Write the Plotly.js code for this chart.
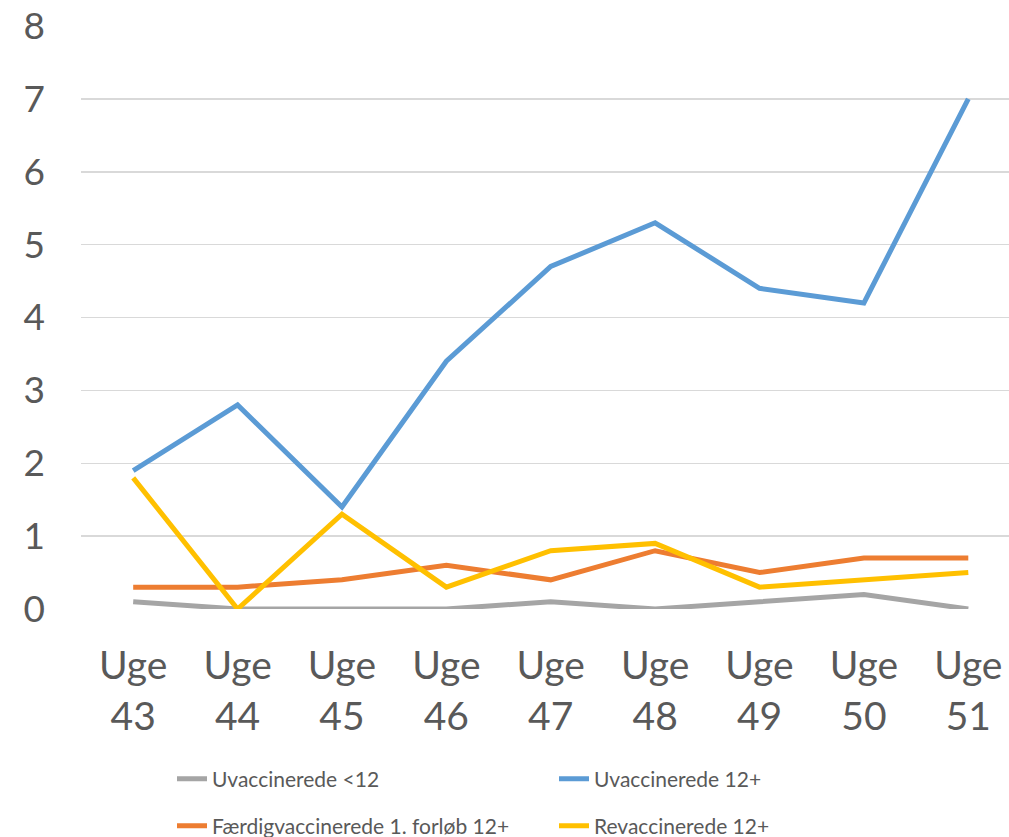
<!DOCTYPE html>
<html><head><meta charset="utf-8">
<script src="https://cdn.plot.ly/plotly-3.0.1.min.js"></script>
<style>html,body{margin:0;padding:0;background:#fff}#c{width:1009px;height:837px}</style>
</head><body><div id="c"></div>
<script>
const weeks = ["Uge<br>43","Uge<br>44","Uge<br>45","Uge<br>46","Uge<br>47","Uge<br>48","Uge<br>49","Uge<br>50","Uge<br>51"];
const seriesNames = ["Uvaccinerede <12","Uvaccinerede 12+","Færdigvaccinerede 1. forløb 12+","Revaccinerede 12+"];
const uvacUnder12 = [0.1, 0, 0, 0, 0.1, 0, 0.1, 0.2, 0];
const uvac12plus = [1.9, 2.8, 1.4, 3.4, 4.7, 5.3, 4.4, 4.2, 7.0];
const faerdig12plus = [0.3, 0.3, 0.4, 0.6, 0.4, 0.8, 0.5, 0.7, 0.7];
const revac12plus = [1.8, 0, 1.3, 0.3, 0.8, 0.9, 0.3, 0.4, 0.5];
const colors = ["#A5A5A5","#5B9BD5","#ED7D31","#FFC000"];
const vals = [uvacUnder12, uvac12plus, faerdig12plus, revac12plus];
const legendIds = ["legend","legend","legend2","legend2"];
const xs = weeks.map((w,i)=>i);
const traces = vals.map((v,i)=>({
  x: xs, y: v, type:'scatter', mode:'lines', name: seriesNames[i],
  legend: legendIds[i],
  line:{color:colors[i], width:5}
}));
const legBase = {orientation:'h', xref:'container', xanchor:'left', yref:'container', yanchor:'middle',
  entrywidth:337, entrywidthmode:'pixels', font:{size:21, color:'#595959'}, traceorder:'normal',
  bgcolor:'rgba(0,0,0,0)'};
const layout = {
  width:1009, height:837,
  margin:{l:81, r:0, t:26, b:228},
  paper_bgcolor:'#fff', plot_bgcolor:'#fff',
  font:{family:'Lato, "Open Sans", sans-serif', color:'#595959'},
  xaxis:{range:[-0.5,8.39], tickvals:xs, ticktext:weeks, showgrid:false, zeroline:false, automargin:false,
         showline:false, ticks:'', ticklabelstandoff:30, tickfont:{size:39, color:'#595959'}, fixedrange:true},
  yaxis:{range:[0,8], dtick:1, showgrid:true, gridcolor:'#D9D9D9', gridwidth:1.5, zeroline:false, automargin:false,
         showline:false, ticks:'', ticklabelstandoff:35, tickfont:{size:37, color:'#595959'}, fixedrange:true},
  showlegend:true,
  legend:Object.assign({}, legBase, {x:172/1009, y:58/837}),
  legend2:Object.assign({}, legBase, {x:172/1009, y:11/837})
};
Plotly.newPlot('c', traces, layout, {displayModeBar:false, staticPlot:true});
</script></body></html>
